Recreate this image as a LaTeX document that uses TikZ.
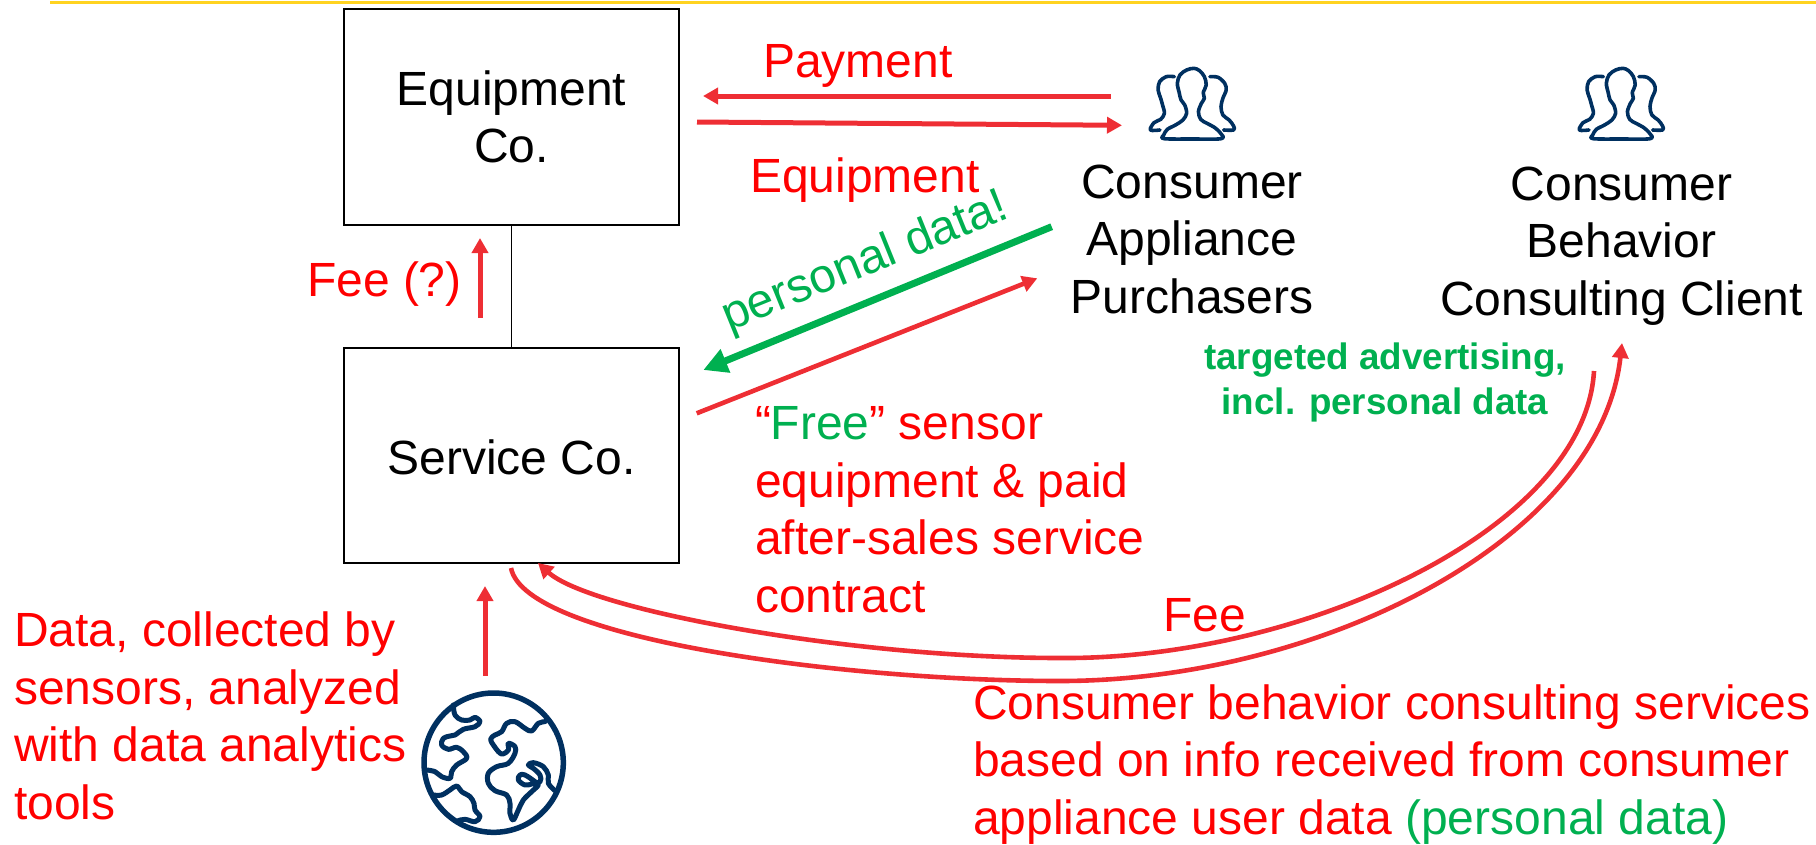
\documentclass[tikz,border=0pt]{standalone}
\usepackage{fontspec}
\setmainfont{Liberation Sans}
\usetikzlibrary{arrows.meta}
\definecolor{lnred}{HTML}{EE2E34}
\definecolor{txred}{HTML}{FF0000}
\definecolor{txgreen}{HTML}{00B050}
\definecolor{navy}{HTML}{003060}
\definecolor{topyellow}{HTML}{FFD320}
\tikzset{
  x=1pt,y=-1pt,
  every node/.style={inner sep=0pt,outer sep=0pt},
  big/.style={font=\fontsize{48}{57.4}\selectfont},
  box/.style={draw=black,line width=1.7pt,minimum width=335pt,align=center,big},
  blacktext/.style={big,text=black,align=center},
  redtext/.style={big,text=txred,align=left},
  redarrow/.style={draw=lnred,line width=5pt,-{Triangle[length=15pt,width=16pt]}},
  redcurve/.style={draw=lnred,line width=4.6pt,-{Triangle[length=15pt,width=16pt]}},
  greenarrow/.style={draw=txgreen,line width=7pt,-{Triangle[length=24pt,width=24pt]}},
  icon/.style={draw=navy,line width=3.6pt,line cap=round,line join=round},
  people/.pic={
    \begin{scope}[xscale=0.37,yscale=0.3333]
      \draw[icon] plot[smooth cycle,tension=0.55] coordinates {(119,296)(197,297)(274,296)(272,280)(255,262)(235,250)(218,238)(212,215)(220,190)(228,175)(225,158)(233,135)(228,110)(215,92)(200,85)(180,90)(162,105)(155,130)(160,158)(165,180)(175,195)(180,220)(170,240)(150,255)(128,268)(118,285)};
      \draw[icon] plot[smooth,tension=0.55] coordinates {(147,110)(125,110)(107,125)(103,150)(110,175)(115,195)(120,220)(110,238)(92,248)(82,270)(108,270)};
      \draw[icon] plot[smooth,tension=0.55] coordinates {(243,110)(265,112)(283,130)(287,150)(278,175)(273,200)(278,225)(295,240)(307,258)(307,270)(280,270)};
    \end{scope}
  }
}
\begin{document}
\begin{tikzpicture}
\useasboundingbox (0,0) rectangle (1816,844);
% top rule
\coordinate (ruleL) at (50,2.7);
\coordinate (ruleR) at (1816,2.7);
\draw[topyellow,line width=2.6pt] (ruleL) -- (ruleR);
% boxes
\node[box,minimum height=216pt] (equip) at (511.5,117) {Equipment\\Co.};
\node[box,minimum height=215pt] (service) at (511.5,455.5) {\raisebox{-2pt}[\height][\depth]{Service Co.}};
\draw[black,line width=1.5pt] (equip) -- (service);
% fee arrow
\coordinate (feeA) at (480,318);
\coordinate (feeB) at (480,238);
\draw[redarrow] (feeA) -- (feeB);
\node[redtext,anchor=base west] (feeq) at (307,296) {Fee (?)};
% payment / equipment
\coordinate (payA) at (1110.7,96);
\coordinate (payB) at (703,96);
\draw[redarrow] (payA) -- (payB);
\coordinate (eqA) at (697,122);
\coordinate (eqB) at (1122,125.3);
\draw[redarrow] (eqA) -- (eqB);
\node[redtext,anchor=base west] (pay) at (763,77) {Payment};
\node[redtext,anchor=base west] (eqt) at (750,192) {Equipment};
% people
\pic at (1120,40) {people};
\pic at (1549,40) {people};
\node[blacktext,anchor=base] (cap) at (1192,313) {Consumer\\Appliance\\Purchasers};
\node[blacktext,anchor=base] (cbc) at (1621.5,315) {Consumer\\Behavior\\Consulting Client};
% personal data
\coordinate (pdA) at (1051.7,226.7);
\coordinate (pdB) at (703.3,370);
\draw[greenarrow] (pdA) -- (pdB);
\node[big,text=txgreen,rotate=22] (pd) at (865.5,263) {personal data!};
\coordinate (frA) at (696.7,413.3);
\coordinate (frB) at (1037.3,278.3);
\draw[redcurve] (frA) -- (frB);
\node[redtext,anchor=base west] (free) at (755,612) {“\textcolor{txgreen}{Free}” sensor\\equipment \& paid\\after-sales service\\contract};
% targeted
\node[font=\bfseries\fontsize{36.8}{45}\selectfont,text=txgreen,align=center,anchor=base] (tgt) at (1385,414.5) {targeted advertising,\\incl. personal data};
% curves
\coordinate (feeCa) at (1594,371);
\coordinate (feeCb) at (538,563);
\draw[redcurve] (feeCa) .. controls (1585,530) and (1300,660) .. (1060,658) .. controls (850,658) and (590,610) .. (feeCb);
\coordinate (cbA) at (511,568);
\coordinate (cbB) at (1622,343);
\draw[redcurve] (cbA) .. controls (525,640) and (850,681) .. (1060,681) .. controls (1320,681) and (1600,540) .. (cbB);
\node[redtext,anchor=base west] (feet) at (1163,631) {Fee};
\node[redtext,anchor=base west] (cons) at (973,834) {Consumer behavior consulting services\\based on info received from consumer\\appliance user data \textcolor{txgreen}{(personal data)}};
% data
\coordinate (daA) at (485,676);
\coordinate (daB) at (485,586);
\draw[redarrow] (daA) -- (daB);
\node[redtext,anchor=base west] (data) at (14,819) {Data, collected by\\sensors, analyzed\\with data analytics\\tools};
% globe
\begin{scope}[shift={(400,660)},xscale=0.3333,yscale=0.3333]
  \draw[icon,line width=5.5pt] (281,308) circle[radius=209];
  \draw[icon,line width=5pt] plot[smooth,tension=0.6] coordinates {(160,135)(165,165)(185,180)(210,180)(225,172)(240,185)(225,200)(190,208)(165,225)(150,228)(130,235)(125,255)(145,268)(170,262)(190,275)(200,295)(170,315)(155,335)(150,355)(125,350)(105,335)(80,330)};
  \draw[icon,line width=5pt] plot[smooth,tension=0.6] coordinates {(100,405)(125,405)(150,390)(170,378)(185,395)(210,410)(222,430)(225,450)(240,470)(225,485)(195,478)(175,482)};
  \draw[icon,line width=5pt] plot[smooth,tension=0.6] coordinates {(435,185)(415,190)(395,213)(375,205)(345,185)(320,190)(305,215)(285,225)(272,238)(285,262)(305,282)(325,270)(325,250)(345,260)(345,280)(325,310)(290,320)(265,340)(265,370)(285,392)(320,405)(330,430)(330,460)(340,480)(355,450)(370,420)(395,395)(415,375)(405,365)(375,345)(360,345)(355,360)(375,375)(395,372)(420,365)(420,345)(400,325)(385,315)(400,308)(430,320)(445,345)(445,370)(465,392)};
\end{scope}
\end{tikzpicture}
\end{document}
